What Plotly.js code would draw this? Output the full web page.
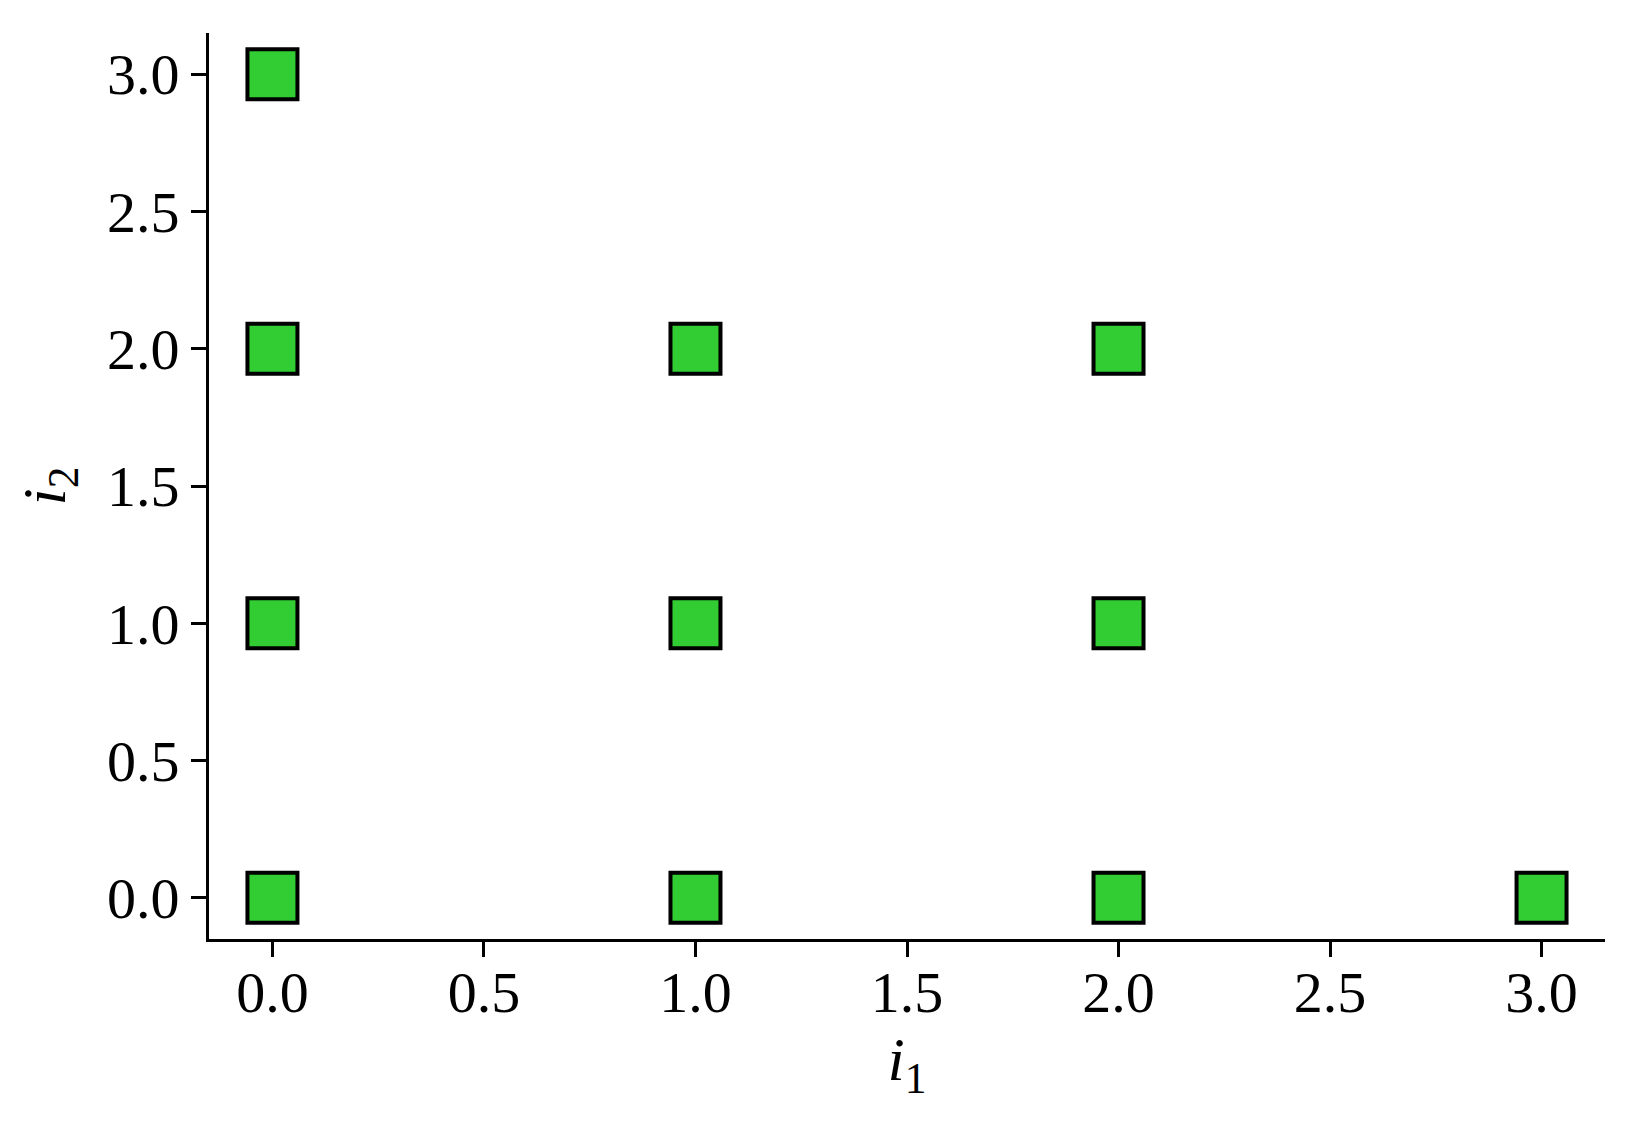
<!DOCTYPE html>
<html>
<head>
<meta charset="utf-8">
<script src="https://cdn.plot.ly/plotly-3.0.1.min.js"></script>
<style>html,body{margin:0;padding:0;background:#fff;}#chart{width:1637px;height:1132px;}</style>
</head>
<body>
<div id="chart"></div>
<script>
// Data points (i1, i2)
const i1Values = [0, 0, 0, 0, 1, 1, 1, 2, 2, 2, 3];
const i2Values = [0, 1, 2, 3, 0, 1, 2, 0, 1, 2, 0];
const tickValues = [0, 0.5, 1, 1.5, 2, 2.5, 3];
const tickLabels = ["0.0", "0.5", "1.0", "1.5", "2.0", "2.5", "3.0"];

const font = {family: "Liberation Serif, DejaVu Serif, serif", size: 58, color: "#000"};
const titleFont = {family: "Liberation Serif, DejaVu Serif, serif", size: 62, color: "#000"};

const trace = {
  x: i1Values,
  y: i2Values,
  mode: "markers",
  type: "scatter",
  marker: {symbol: "square", size: 50, color: "#32CD32", line: {color: "#000", width: 4}},
  hoverinfo: "x+y"
};

const axisCommon = {
  showgrid: false,
  zeroline: false,
  showline: true,
  linecolor: "#000",
  linewidth: 3,
  mirror: false,
  ticks: "outside",
  ticklen: 15,
  tickwidth: 3,
  tickcolor: "#000",
  tickmode: "array",
  tickvals: tickValues,
  ticktext: tickLabels,
  tickfont: font
};

const layout = {
  width: 1637,
  height: 1132,
  margin: {l: 209, r: 32, t: 33, b: 193},
  paper_bgcolor: "#fff",
  plot_bgcolor: "#fff",
  showlegend: false,
  xaxis: Object.assign({}, axisCommon, {
    range: [-0.15, 3.15],
    ticklabelstandoff: -15,
    title: {text: "<i>i</i><sub>1</sub>", font: titleFont, standoff: 4}
  }),
  yaxis: Object.assign({}, axisCommon, {
    range: [-0.15, 3.15],
    ticklabelstandoff: 0,
    title: {text: "<i>i</i><sub>2</sub>", font: titleFont, standoff: 22}
  })
};

Plotly.newPlot("chart", [trace], layout, {displayModeBar: false, staticPlot: true});
</script>
</body>
</html>
